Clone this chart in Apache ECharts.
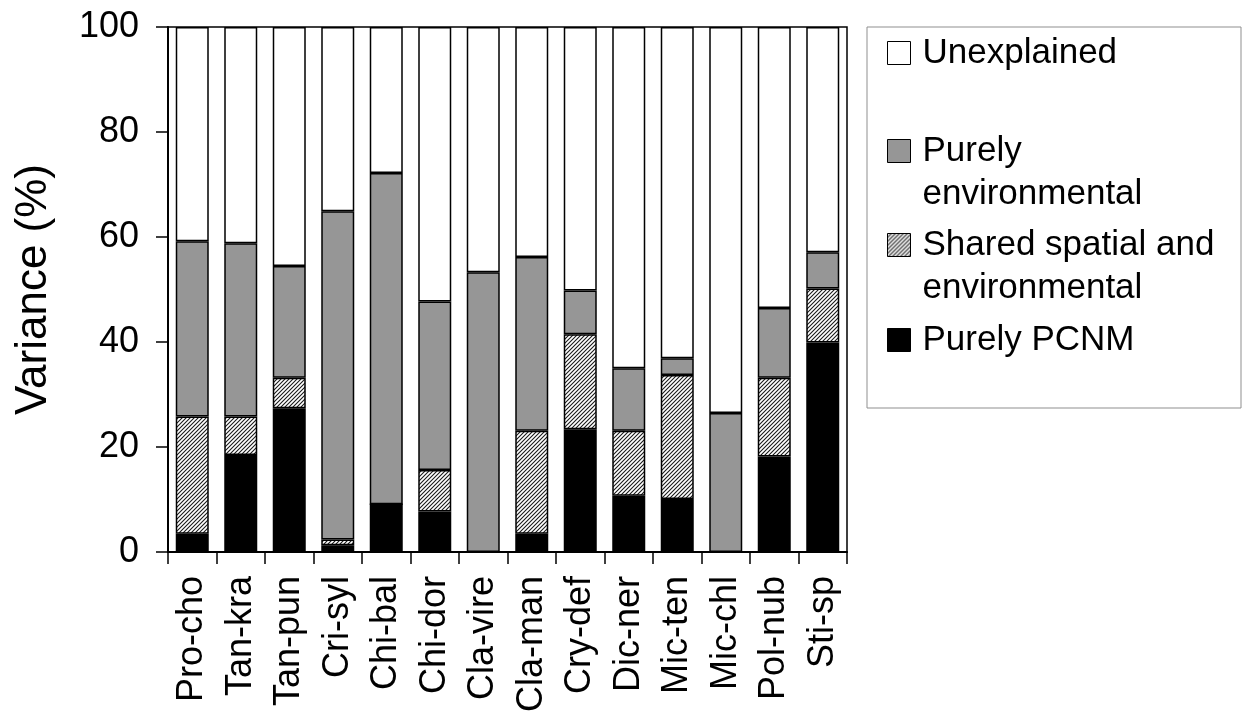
<!DOCTYPE html>
<html>
<head>
<meta charset="utf-8">
<script src="https://cdn.jsdelivr.net/npm/echarts@6/dist/echarts.min.js"></script>
<style>html,body{margin:0;padding:0;background:#fff;}#c{width:1243px;height:713px;}</style>
</head>
<body>
<div id="c"></div>
<script>
const categories = ['Pro-cho','Tan-kra','Tan-pun','Cri-syl','Chi-bal','Chi-dor','Cla-vire','Cla-man','Cry-def','Dic-ner','Mic-ten','Mic-chl','Pol-nub','Sti-sp'];
const purelyPCNM = [3.5, 18.5, 27.4, 1.3, 9.1, 7.7, 0, 3.5, 23.4, 10.7, 10.1, 0, 18.2, 39.9];
const sharedSpatialEnv = [22.3, 7.3, 5.8, 1.1, 0, 7.9, 0, 19.6, 18.1, 12.4, 23.6, 0, 15.0, 10.3];
const purelyEnv = [33.4, 33.0, 21.3, 62.5, 63.1, 32.1, 53.3, 33.1, 8.3, 11.9, 3.2, 26.5, 13.3, 6.9];
const unexplained = [40.8, 41.2, 45.5, 35.1, 27.8, 52.3, 46.7, 43.8, 50.2, 65.0, 63.1, 73.5, 53.5, 42.9];
const yTicks = { min: 0, max: 100, interval: 20 };

const FONT = '"Liberation Sans", Arial, sans-serif';

// hatch pattern
const tile = document.createElement('canvas');
tile.width = 4; tile.height = 4;
const g = tile.getContext('2d');
g.fillStyle = '#ffffff'; g.fillRect(0, 0, 4, 4);
g.strokeStyle = '#1a1a1a'; g.lineWidth = 1.1;
g.beginPath();
g.moveTo(0, 4); g.lineTo(4, 0);
g.moveTo(-1, 1); g.lineTo(1, -1);
g.moveTo(3, 5); g.lineTo(5, 3);
g.stroke();
const hatch = { image: tile, repeat: 'repeat' };

const chart = echarts.init(document.getElementById('c'), null, { renderer: 'canvas' });

const seg = (name, data, color) => ({
  name, type: 'bar', stack: 'v', data, barWidth: 33,
  itemStyle: { color, borderColor: '#000', borderWidth: 1.5 },
  emphasis: { disabled: true }
});

const legendBase = {
  orient: 'vertical', left: 887, padding: 0, itemWidth: 23, itemHeight: 23, itemGap: 0,
  selectedMode: false, icon: 'rect',
  textStyle: { fontFamily: FONT, fontSize: 35, color: '#000', lineHeight: 43, padding: [0, 0, 0, 7] }
};
const L = (name, top, text) => Object.assign({}, legendBase, {
  data: [{ name, itemStyle: { borderColor: '#000', borderWidth: 1 } }],
  top,
  formatter: () => text
});

chart.setOption({
  animation: false,
  backgroundColor: '#fff',
  grid: { left: 168, right: 396, top: 27, bottom: 161, containLabel: false, outerBoundsMode: 'none',
          show: true, borderColor: '#000', borderWidth: 1.5, backgroundColor: 'transparent' },
  graphic: [{
    type: 'rect', shape: { x: 867, y: 27, width: 374, height: 381 },
    style: { fill: 'none', stroke: '#8f8f8f', lineWidth: 1 }, z: -1
  }],
  legend: [
    L('Unexplained', 53 - 21.5, 'Unexplained'),
    L('Purely environmental', 151 - 64.5, '\nPurely\nenvironmental'),
    L('Shared spatial and environmental', 245 - 64.5, '\nShared spatial and\nenvironmental'),
    L('Purely PCNM', 340 - 21.5, 'Purely PCNM')
  ],
  xAxis: {
    type: 'category', data: categories,
    axisLine: { lineStyle: { color: '#000', width: 2 } },
    axisTick: { show: true, length: 12, inside: false, lineStyle: { color: '#000', width: 1.5 } },
    axisLabel: { rotate: 90, fontFamily: FONT, fontSize: 36, color: '#000', margin: 24, interval: 0 }
  },
  yAxis: {
    type: 'value', min: yTicks.min, max: yTicks.max, interval: yTicks.interval,
    name: 'Variance (%)', nameLocation: 'middle', nameGap: 112, nameRotate: 90,
    nameTextStyle: { fontFamily: FONT, fontSize: 44, color: '#000' },
    axisLine: { show: true, lineStyle: { color: '#000', width: 2 } },
    axisTick: { show: true, length: 12, lineStyle: { color: '#000', width: 1.5 } },
    splitLine: { show: false },
    axisLabel: { fontFamily: FONT, fontSize: 36, color: '#000', margin: 29 }
  },
  series: [
    seg('Purely PCNM', purelyPCNM, '#000000'),
    seg('Shared spatial and environmental', sharedSpatialEnv, hatch),
    seg('Purely environmental', purelyEnv, '#969696'),
    seg('Unexplained', unexplained, '#ffffff')
  ]
});
</script>
</body>
</html>
